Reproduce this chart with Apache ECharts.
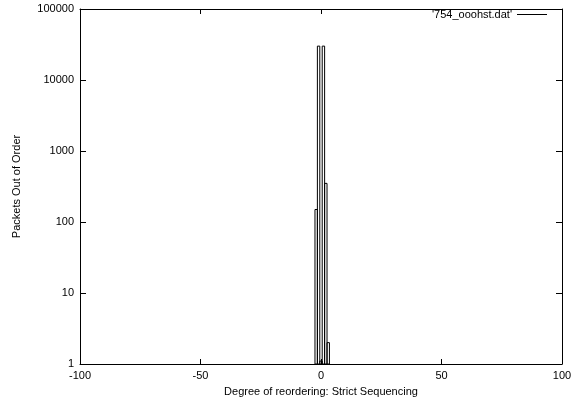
<!DOCTYPE html>
<html>
<head>
<meta charset="utf-8">
<script src="https://cdn.jsdelivr.net/npm/echarts@6/dist/echarts.min.js"></script>
<style>
  html, body { margin: 0; padding: 0; background: #fff; }
  #main { width: 585px; height: 403px; }
</style>
</head>
<body>
<div id="main"></div>
<script>
// histogram bins (degree of reordering) and counts
var bins = [-2, -1, 0, 1, 2, 3];
var counts = [150, 30000, 1.1, 30000, 350, 2];
var xTicks = [-100, -50, 0, 50, 100];
var seriesName = "'754_ooohst.dat'";

var data = bins.map(function (b, i) { return [b, counts[i]]; });

var font = 'Liberation Sans, Arial, sans-serif';
// 不让坐标轴贴在 0 上
var axisLine = { onZero: false, lineStyle: { color: '#000', width: 1 } };

var myChart = echarts.init(document.getElementById('main'), null, { renderer: 'canvas' });
myChart.setOption({
  animation: false,
  backgroundColor: '#fff',
  grid: { left: 80, right: 23, top: 9, bottom: 39 },
  legend: {
    data: [{ name: seriesName, icon: 'rect' }],
    right: 33,
    top: 4,
    align: 'right',
    itemWidth: 30,
    itemHeight: 1,
    itemGap: 6,
    textStyle: { fontFamily: font, fontSize: 11, color: '#000' }
  },
  xAxis: [
    {
      type: 'value', min: xTicks[0], max: xTicks[xTicks.length - 1], interval: 50,
      name: 'Degree of reordering: Strict Sequencing',
      nameLocation: 'middle', nameGap: 22,
      nameTextStyle: { fontFamily: font, fontSize: 11, color: '#000' },
      axisLine: axisLine,
      axisTick: { inside: true, length: 5, lineStyle: { color: '#000' } },
      axisLabel: { fontFamily: font, fontSize: 11, color: '#000', margin: 6 },
      splitLine: { show: false }
    },
    {
      type: 'value', position: 'top', min: -100, max: 100, interval: 50,
      axisLine: axisLine,
      axisTick: { inside: true, length: 5, lineStyle: { color: '#000' } },
      axisLabel: { show: false },
      splitLine: { show: false }
    }
  ],
  yAxis: [
    {
      type: 'log', logBase: 10, min: 1, max: 100000,
      name: 'Packets Out of Order',
      nameLocation: 'middle', nameGap: 58, nameRotate: 90,
      nameTextStyle: { fontFamily: font, fontSize: 11, color: '#000' },
      axisLine: axisLine,
      axisTick: { inside: true, length: 6, lineStyle: { color: '#000' } },
      minorTick: { show: false },
      axisLabel: {
        fontFamily: font, fontSize: 11, color: '#000', margin: 6,
        formatter: function (v) { return String(Math.round(v)); }
      },
      splitLine: { show: false }
    },
    {
      type: 'log', logBase: 10, min: 1, max: 100000, position: 'right',
      axisLine: axisLine,
      axisTick: { inside: true, length: 6, lineStyle: { color: '#000' } },
      axisLabel: { show: false },
      splitLine: { show: false }
    }
  ],
  series: [
    {
      name: seriesName,
      type: 'custom',
      itemStyle: { color: '#000' },
      clip: true,
      data: data,
      renderItem: function (params, api) {
        var x = api.value(0), v = api.value(1);
        var top = api.coord([x - 0.5, v]);
        var bot = api.coord([x + 0.5, 1]);
        return {
          type: 'rect',
          shape: { x: top[0], y: top[1], width: bot[0] - top[0], height: bot[1] - top[1] },
          style: { fill: 'none', stroke: '#000', lineWidth: 1 }
        };
      }
    }
  ]
});
</script>
</body>
</html>
